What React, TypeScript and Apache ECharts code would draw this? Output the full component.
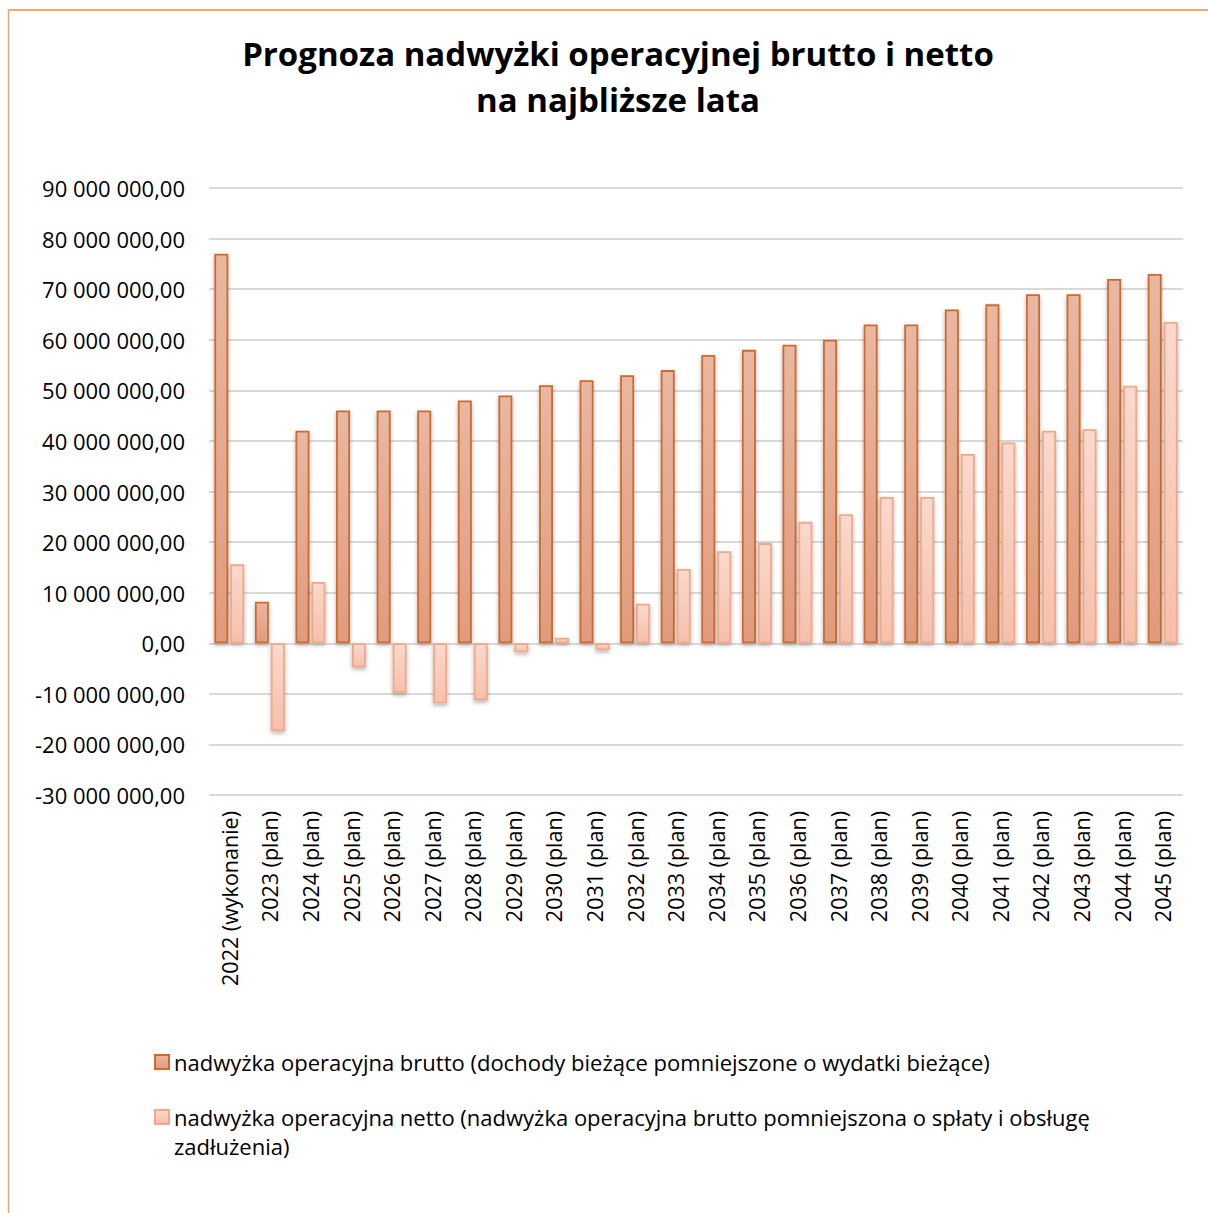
import React, { useEffect, useRef } from "react";
import * as echarts from "echarts";

const titleText = "Prognoza nadwyżki operacyjnej brutto i netto\nna najbliższe lata";

const categories = [
  "2022 (wykonanie)", "2023 (plan)", "2024 (plan)", "2025 (plan)", "2026 (plan)", "2027 (plan)",
  "2028 (plan)", "2029 (plan)", "2030 (plan)", "2031 (plan)", "2032 (plan)", "2033 (plan)",
  "2034 (plan)", "2035 (plan)", "2036 (plan)", "2037 (plan)", "2038 (plan)", "2039 (plan)",
  "2040 (plan)", "2041 (plan)", "2042 (plan)", "2043 (plan)", "2044 (plan)", "2045 (plan)",
];

const bruttoName = "nadwyżka operacyjna brutto (dochody bieżące pomniejszone o wydatki bieżące)";
const nettoName = "nadwyżka operacyjna netto (nadwyżka operacyjna brutto pomniejszona o spłaty i obsługę zadłużenia)";

const bruttoValues = [
  77000000, 8200000, 42000000, 46000000, 46000000, 46000000, 48000000, 49000000,
  51000000, 52000000, 53000000, 54000000, 57000000, 58000000, 59000000, 60000000,
  63000000, 63000000, 66000000, 67000000, 69000000, 69000000, 72000000, 73000000,
];

const nettoValues = [
  15600000, -17400000, 12100000, -4800000, -9900000, -11900000, -11300000, -1800000,
  1100000, -1400000, 7800000, 14700000, 18200000, 19800000, 24000000, 25500000,
  28900000, 28900000, 37400000, 39700000, 42000000, 42300000, 50900000, 63500000,
];

const yMin = -30000000;
const yMax = 90000000;
const yInterval = 10000000;

function fmt(v: number): string {
  const sign = v < 0 ? "-" : "";
  const s = Math.abs(Math.round(v)).toString();
  const parts: string[] = [];
  for (let i = s.length; i > 0; i -= 3) {
    parts.unshift(s.substring(Math.max(0, i - 3), i));
  }
  return sign + parts.join(" ") + ",00";
}

const font = "'Open Sans', 'DejaVu Sans', sans-serif";

export default function App() {
  const ref = useRef<HTMLDivElement>(null);
  useEffect(() => {
    if (!ref.current) return;
    const chart = echarts.init(ref.current, null, { renderer: "svg" });
    const bruttoColor = new echarts.graphic.LinearGradient(0, 0, 0, 1, [
      { offset: 0, color: "#E9B7A1" },
      { offset: 1, color: "#E19B7C" },
    ]);
    const nettoColor = new echarts.graphic.LinearGradient(0, 0, 0, 1, [
      { offset: 0, color: "#FAD9CC" },
      { offset: 1, color: "#F6C0AA" },
    ]);
    chart.setOption({
      animation: false,
      backgroundColor: "#ffffff",
      title: {
        text: titleText,
        left: 613,
        textAlign: "center",
        top: 25,
        textStyle: {
          fontFamily: "'Open Sans', Lato, sans-serif",
          fontSize: 33,
          fontWeight: "bold",
          color: "#000000",
          lineHeight: 46,
        },
      },
      graphic: [
        {
          type: "line",
          shape: { x1: 8, y1: 10, x2: 1208, y2: 10 },
          style: { stroke: "#F58A3E", lineWidth: 1.5 },
          silent: true,
        },
        {
          type: "line",
          shape: { x1: 8.5, y1: 10, x2: 8.5, y2: 1213 },
          style: { stroke: "#F2A673", lineWidth: 1.5 },
          silent: true,
        },
      ],
      legend: [
        {
          data: [bruttoName],
          left: 154,
          top: 1047.5,
          padding: 0,
          icon: "rect",
          itemWidth: 14,
          itemHeight: 14,
          itemGap: 5,
          textStyle: { fontFamily: font, fontSize: 22, color: "#000000", lineHeight: 29 },
        },
        {
          data: [nettoName],
          left: 154,
          top: 1073.5,
          padding: 0,
          icon: "rect",
          itemWidth: 14,
          itemHeight: 14,
          formatter: (name: string) => "\n" + name.replace(" zadłużenia)", "\nzadłużenia)"),
          textStyle: {
            fontFamily: font,
            fontSize: 22,
            color: "#000000",
            lineHeight: 29,
          },
        },
      ],
      grid: { left: 209, right: 25, top: 188, bottom: 418, containLabel: false },
      xAxis: {
        type: "category",
        data: categories,
        axisLine: { show: false, onZero: false },
        axisTick: { show: false },
        axisLabel: {
          rotate: 90,
          interval: 0,
          margin: 16,
          fontFamily: font,
          fontSize: 21.5,
          color: "#000000",
        },
        splitLine: { show: false },
      },
      yAxis: {
        type: "value",
        min: yMin,
        max: yMax,
        interval: yInterval,
        axisLine: { show: false },
        axisTick: { show: false },
        axisLabel: {
          formatter: (v: number) => fmt(v),
          margin: 24,
          fontFamily: font,
          fontSize: 22,
          color: "#000000",
        },
        splitLine: { lineStyle: { color: "#D9D9D9", width: 2 } },
      },
      series: [
        {
          name: bruttoName,
          type: "bar",
          data: bruttoValues,
          barWidth: 14,
          barGap: "14%",
          itemStyle: {
            color: bruttoColor,
            borderColor: "#CC6B30",
            borderWidth: 1.8,
            shadowBlur: 4,
            shadowColor: "rgba(0,0,0,0.3)",
            shadowOffsetY: 2,
          },
        },
        {
          name: nettoName,
          type: "bar",
          data: nettoValues,
          barWidth: 14,
          barGap: "14%",
          itemStyle: {
            color: nettoColor,
            borderColor: "#F0A88B",
            borderWidth: 1.8,
            shadowBlur: 4,
            shadowColor: "rgba(0,0,0,0.3)",
            shadowOffsetY: 2,
          },
        },
      ],
    });
    return () => chart.dispose();
  }, []);
  return (
    <div
      ref={ref}
      style={{ position: "absolute", left: 0, top: 0, width: 1208, height: 1213 }}
    />
  );
}
